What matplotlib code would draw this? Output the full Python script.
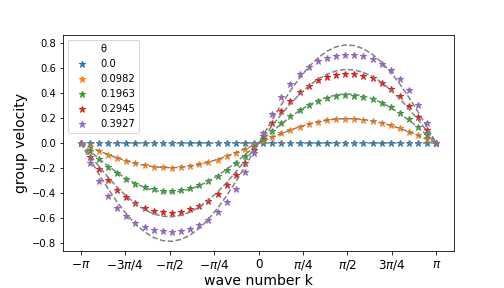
import matplotlib
matplotlib.use("Agg")
import matplotlib.pyplot as plt
import numpy as np

# wave numbers (40 evenly spaced points from -pi to pi)
k_pos = [0.0806, 0.2417, 0.4028, 0.5639, 0.7250, 0.8861, 1.0472, 1.2083, 1.3694, 1.5305,
         1.6916, 1.8527, 2.0138, 2.1749, 2.3360, 2.4971, 2.6582, 2.8193, 2.9804, 3.1416]
k = [-v for v in k_pos[::-1]] + k_pos

thetas = ["0.0", "0.0982", "0.1963", "0.2945", "0.3927"]

# group velocity (stars)
v_00 = [0.0] * 40
v_0982 = [-0.0, -0.032, -0.063, -0.092, -0.119, -0.142, -0.162, -0.177, -0.188, -0.194,
          -0.195, -0.191, -0.183, -0.170, -0.152, -0.131, -0.106, -0.078, -0.048, -0.016,
          0.016, 0.048, 0.078, 0.106, 0.131, 0.152, 0.170, 0.183, 0.191, 0.195,
          0.194, 0.188, 0.177, 0.162, 0.142, 0.119, 0.092, 0.063, 0.032, 0.0]
v_1963 = [-0.0, -0.066, -0.130, -0.189, -0.241, -0.286, -0.323, -0.350, -0.370, -0.380,
          -0.382, -0.376, -0.361, -0.338, -0.305, -0.265, -0.216, -0.160, -0.099, -0.033,
          0.033, 0.099, 0.160, 0.216, 0.265, 0.305, 0.338, 0.361, 0.376, 0.382,
          0.380, 0.370, 0.350, 0.323, 0.286, 0.241, 0.189, 0.130, 0.066, 0.0]
v_2945 = [-0.0, -0.107, -0.207, -0.297, -0.373, -0.434, -0.482, -0.517, -0.540, -0.553,
          -0.555, -0.548, -0.530, -0.501, -0.460, -0.405, -0.336, -0.253, -0.158, -0.054,
          0.054, 0.158, 0.253, 0.336, 0.405, 0.460, 0.501, 0.530, 0.548, 0.555,
          0.553, 0.540, 0.517, 0.482, 0.434, 0.373, 0.297, 0.207, 0.107, 0.0]
v_3927 = [-0.0, -0.158, -0.302, -0.421, -0.515, -0.585, -0.635, -0.670, -0.693, -0.705,
          -0.707, -0.700, -0.683, -0.655, -0.612, -0.553, -0.471, -0.365, -0.233, -0.080,
          0.080, 0.233, 0.365, 0.471, 0.553, 0.612, 0.655, 0.683, 0.700, 0.707,
          0.705, 0.693, 0.670, 0.635, 0.585, 0.515, 0.421, 0.302, 0.158, 0.0]

# dashed reference curves
d_00 = [0.0] * 40
d_0982 = [-0.0, -0.0315, -0.0622, -0.0912, -0.1179, -0.1416, -0.1616, -0.1774, -0.1885, -0.1949,
          -0.1961, -0.1923, -0.1835, -0.1700, -0.1520, -0.1302, -0.1049, -0.0769, -0.0470, -0.0158,
          0.0158, 0.0470, 0.0769, 0.1049, 0.1302, 0.1520, 0.1700, 0.1835, 0.1923, 0.1961,
          0.1949, 0.1885, 0.1774, 0.1616, 0.1416, 0.1179, 0.0912, 0.0622, 0.0315, 0.0]
d_1963 = [-0.0, -0.0630, -0.1244, -0.1825, -0.2359, -0.2832, -0.3232, -0.3548, -0.3771, -0.3898,
          -0.3924, -0.3847, -0.3672, -0.3401, -0.3041, -0.2604, -0.2099, -0.1539, -0.0940, -0.0316,
          0.0316, 0.0940, 0.1539, 0.2099, 0.2604, 0.3041, 0.3401, 0.3672, 0.3847, 0.3924,
          0.3898, 0.3771, 0.3548, 0.3232, 0.2832, 0.2359, 0.1825, 0.1244, 0.0630, 0.0]
d_2945 = [-0.0, -0.0945, -0.1865, -0.2737, -0.3538, -0.4248, -0.4847, -0.5322, -0.5657, -0.5847,
          -0.5885, -0.5770, -0.5507, -0.5101, -0.4562, -0.3906, -0.3148, -0.2308, -0.1409, -0.0474,
          0.0474, 0.1409, 0.2308, 0.3148, 0.3906, 0.4562, 0.5101, 0.5507, 0.5770, 0.5885,
          0.5847, 0.5657, 0.5322, 0.4847, 0.4248, 0.3538, 0.2737, 0.1865, 0.0945, 0.0]
d_3927 = [-0.0, -0.1261, -0.2487, -0.3650, -0.4718, -0.5664, -0.6464, -0.7096, -0.7543, -0.7797,
          -0.7848, -0.7695, -0.7344, -0.6802, -0.6083, -0.5208, -0.4198, -0.3078, -0.1879, -0.0632,
          0.0632, 0.1879, 0.3078, 0.4198, 0.5208, 0.6083, 0.6802, 0.7344, 0.7695, 0.7848,
          0.7797, 0.7543, 0.7096, 0.6464, 0.5664, 0.4718, 0.3650, 0.2487, 0.1261, 0.0]

stars = [v_00, v_0982, v_1963, v_2945, v_3927]
dashed = [d_00, d_0982, d_1963, d_2945, d_3927]

xtick_vals = [-np.pi, -3 * np.pi / 4, -np.pi / 2, -np.pi / 4, 0, np.pi / 4, np.pi / 2, 3 * np.pi / 4, np.pi]
xtick_labels = [r"$-\pi$", r"$-3\pi/4$", r"$-\pi/2$", r"$-\pi/4$", "0",
                r"$\pi/4$", r"$\pi/2$", r"$3\pi/4$", r"$\pi$"]

fig = plt.figure(figsize=(7, 4), dpi=72)
ax = fig.add_axes([0.125, 0.128, 0.776, 0.750])

for lab, v in zip(thetas, stars):
    ax.plot(k, v, "*", markersize=7, label=lab)
for d in dashed:
    ax.plot(k, d, "--", color="gray")

ax.set_xticks(xtick_vals)
ax.set_xticklabels(xtick_labels, fontsize=12)
ax.tick_params(axis="y", labelsize=10)
ax.set_xlabel("wave number k", fontsize=14, labelpad=2)
ax.set_ylabel("group velocity", fontsize=14)
ax.legend(title="θ", loc="upper left", fontsize=10)

fig.savefig("out.png", dpi=72)
